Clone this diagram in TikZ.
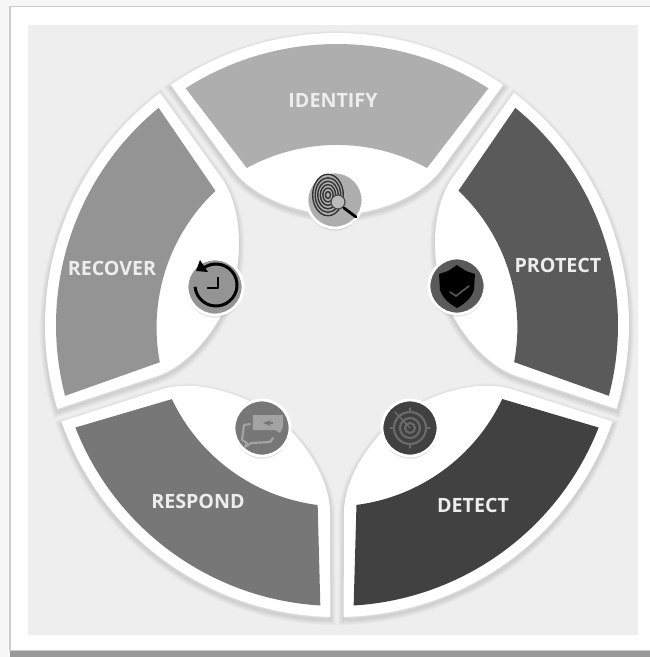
\documentclass[tikz,border=0pt]{standalone}
\usepackage{fontspec}
\setmainfont{Open Sans}
\definecolor{identifyc}{HTML}{AEAEAE}
\definecolor{protectc}{HTML}{5A5A5A}
\definecolor{detectc}{HTML}{414141}
\definecolor{respondc}{HTML}{777777}
\definecolor{recoverc}{HTML}{949494}
\definecolor{panelc}{HTML}{EEEEEE}
\definecolor{glyphc}{HTML}{A3A3A3}
\usetikzlibrary{arrows.meta,shadows}
\newcommand{\petalouter}{(124.7:292) arc[start angle=124.7,end angle=55.3,radius=292]
  -- (104,155) .. controls (85,130) and (45,112) .. (0,110)
  .. controls (-45,112) and (-85,130) .. (-104,155) -- cycle}
\newcommand{\petalinner}{(122.6:281) arc[start angle=122.6,end angle=57.4,radius=281]
  -- (90,157) arc[start angle=61.3,end angle=118.7,radius=187.6] -- cycle}

\begin{document}
\begin{tikzpicture}[x=0.02cm,y=0.02cm,
    petal/.style={fill=white},
    seglabel/.style={font=\bfseries\fontsize{11.2}{13}\selectfont, text=white!93!black, inner sep=0pt},
    badge/.style={circle, draw=white, line width=1.6pt, minimum size=1.12cm, inner sep=0pt,
      drop shadow={opacity=.25, shadow xshift=0pt, shadow yshift=-1.5pt}},
    glyph/.style={draw=glyphc, line width=1.2pt, line cap=round, line join=round},
    ink/.style={draw=black, line width=1.7pt, line join=round},
  ]
  \useasboundingbox (-337,-332) rectangle (313,325);
  % Sheet and panel
  \fill[white!97!black] (-337,-332) rectangle (313,325);
  \fill[white!60!black] (-327,-332) rectangle (313,-326);
  \fill[white!80!black] (-328,-326) rectangle (313,319);
  \fill[white] (-326,-325) rectangle (313,318);
  \fill[panelc] (-309,-310) rectangle (301,300);

  % Soft shadows under the petals
  \foreach \ang in {0,-72,-144,-216,-288}
    \foreach \wid in {1,2,...,6}
      \draw[black, opacity=.018, line width=\wid pt, shift={(0,-3)}, rotate=\ang] \petalouter;

  % Petals
  \foreach \ang/\col in {0/identifyc,-72/protectc,-144/detectc,-216/respondc,-288/recoverc}{
    \begin{scope}[rotate=\ang]
      \fill[petal] \petalouter;
      \fill[\col] \petalinner;
    \end{scope}
  }

  % Labels
  \node[seglabel] (identifylabel) at (-4,225) {IDENTIFY};
  \node[seglabel] (protectlabel) at (221,60) {PROTECT};
  \node[seglabel] (detectlabel) at (136,-180) {DETECT};
  \node[seglabel] (respondlabel) at (-139,-176) {RESPOND};
  \node[seglabel] (recoverlabel) at (-225,57) {RECOVER};

  % Badges
  \node[badge, fill=identifyc] (identifyicon) at (-2,125) {};
  \node[badge, fill=protectc] (protecticon) at (120,39) {};
  \node[badge, fill=detectc] (detecticon) at (73,-103) {};
  \node[badge, fill=respondc] (respondicon) at (-75,-103) {};
  \node[badge, fill=recoverc] (recovericon) at (-122,38) {};

  % Fingerprint and lens
  \begin{scope}[shift={(identifyicon)}]
    \foreach \rad in {3,6,...,18}
      \draw[black!80, line width=0.8pt] (-7,5) ellipse[x radius=\rad*0.85, y radius=\rad*1.15];
    \fill[identifyc!85!white] (3,-2) circle[radius=7];
    \draw[black!70, line width=0.7pt] (3,-2) circle[radius=7];
    \draw[black, line width=1.6pt, line cap=round] (9,-8) -- (21,-17);
  \end{scope}

  % Shield
  \begin{scope}[shift={(protecticon)}]
    \fill[black] (0,21) -- (9,15) -- (18,12) -- (17,-4) .. controls (14,-13) and (7,-18) .. (0,-22)
      .. controls (-7,-18) and (-14,-13) .. (-17,-4) -- (-18,12) -- (-9,15) -- cycle;
    \draw[protectc, line width=0.9pt, line cap=round] (-7,-6) -- (-1,-10) -- (12,0);
  \end{scope}

  % Radar
  \begin{scope}[shift={(detecticon)}]
    \foreach \rad in {5,10,16}
      \draw[glyph, draw=white!42!black] (0,0) circle[radius=\rad];
    \draw[glyph, line width=0.8pt, draw=white!42!black] (-15,16) -- (0,0);
    \foreach \tick in {0,90,180,270}
      \draw[glyph, line width=0.8pt, draw=white!42!black] (\tick:16) -- (\tick:20);
  \end{scope}

  % Speech bubbles
  \begin{scope}[shift={(respondicon)}]
    \draw[glyph] (-12,4) -- (-18,3) -- (-20,-12) -- (-15,-15) -- (-17,-19) -- (-11,-15) -- (8,-14) -- (11,-10);
    \fill[glyphc] (-9,13) -- (21,13) -- (21,1) -- (18,-5) -- (13,-2) -- (-9,-2) -- cycle;
    \draw[-{Stealth[length=1.6mm]}, respondc, line width=0.9pt] (11,5) -- (1,5);
  \end{scope}

  % Clock
  \begin{scope}[shift={(recovericon)}]
    \draw[ink] (1,2) ++(130:21) arc[start angle=130,end angle=-175,radius=21];
    \fill[black] (-15,27) -- (-19,16) -- (-7,15) -- cycle;
    \draw[ink, line width=1.2pt] (3,10) -- (3,-1) -- (-8,-1);
  \end{scope}
\end{tikzpicture}
\end{document}
